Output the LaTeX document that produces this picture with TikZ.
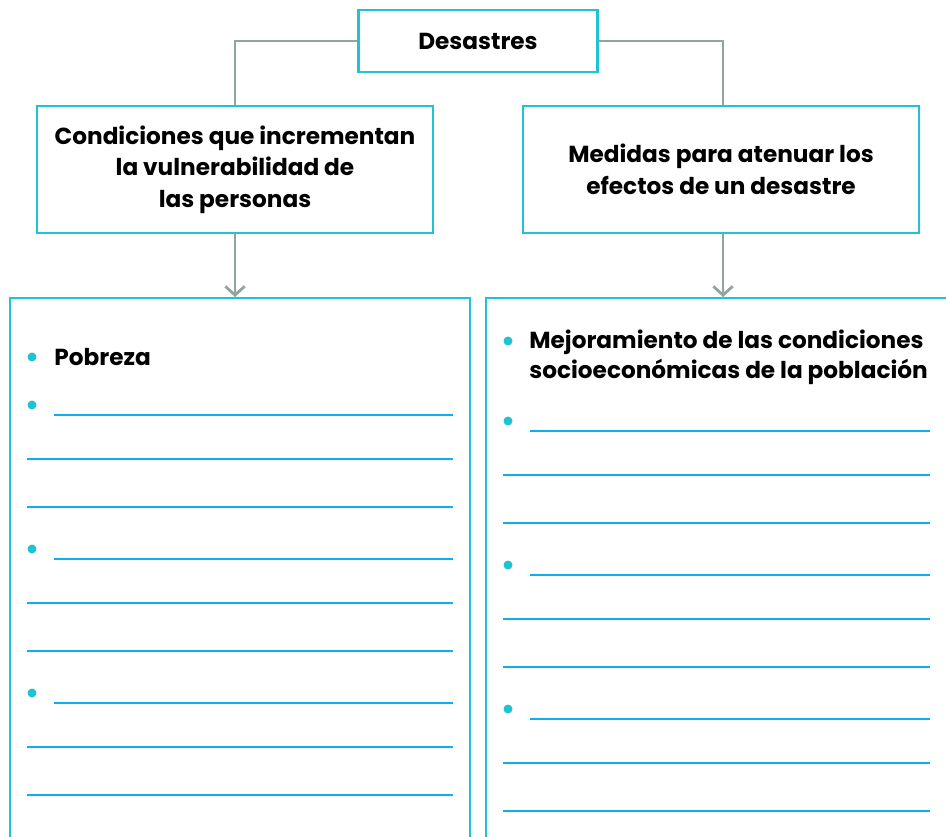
\documentclass[tikz,border=0pt]{standalone}
\usepackage{fontspec}
\setmainfont{Poppins}
\usetikzlibrary{arrows.meta}
\definecolor{boxcyan}{HTML}{1FC3D4}
\definecolor{linkgray}{HTML}{8FA59F}
\definecolor{lineblue}{HTML}{0BB0EC}
\begin{document}
\begin{tikzpicture}[x=0.02cm,y=-0.02cm,
  box/.style={draw=boxcyan,line width=1.2pt,rectangle,align=center,font=\fontsize{13.2}{18}\selectfont\bfseries},
  link/.style={draw=linkgray,line width=1.6pt},
  writeline/.style={draw=lineblue,line width=1.5pt},
  dot/.style={fill=boxcyan}]
  \useasboundingbox (0,0) rectangle (946,837);
  % title and the two question boxes
  \node[box,minimum width=4.78cm,minimum height=1.24cm] (top) at (478,41) {Desastres};
  \node[box,minimum width=7.92cm,minimum height=2.54cm] (cond) at (235,169.5)
    {Condiciones que incrementan\\la vulnerabilidad de\\las personas};
  \node[box,minimum width=7.92cm,minimum height=2.54cm] (medi) at (721,169.5)
    {Medidas para atenuar los\\efectos de un desastre};
  % answer boxes, open at the bottom
  \node[draw=boxcyan,line width=1.2pt,minimum width=9.2cm,minimum height=11.2cm,anchor=north] (condlist) at (240,297) {};
  \node[draw=boxcyan,line width=1.2pt,minimum width=9.5cm,minimum height=11.2cm,anchor=north] (medilist) at (723,297) {};
  \draw[link] (top.west) -| (cond.north);
  \draw[link] (top.east) -| (medi.north -| 723,0);
  \draw[link,-{Straight Barb[length=5pt,width=11pt]}] (cond.south) -- (cond.south |- condlist.north);
  \draw[link,-{Straight Barb[length=5pt,width=11pt]}] (medi.south -| 723,0) -- (723,297);
  % left list
  \fill[dot] (32,357) circle (4.5);
  \node[anchor=west,font=\fontsize{13.2}{17}\selectfont\bfseries,inner sep=0pt] (pobreza) at (54,357) {Pobreza};
  \foreach \y in {405,549,693} {
    \fill[dot] (32,\y) circle (4.5);
    \draw[writeline] (54,\y+10) -- (453,\y+10);
    \draw[writeline] (27,\y+54) -- (453,\y+54);
    \draw[writeline] (27,\y+102) -- (453,\y+102);
  }
  % right list
  \fill[dot] (508,341) circle (4.5);
  \node[anchor=west,align=left,font=\fontsize{13.2}{17}\selectfont\bfseries,inner sep=0pt] (mejora) at (529,357)
    {Mejoramiento de las condiciones\\socioeconómicas de la población};
  \foreach \y in {421,565,709} {
    \fill[dot] (508,\y) circle (4.5);
    \draw[writeline] (530,\y+10) -- (930,\y+10);
    \draw[writeline] (503,\y+54) -- (930,\y+54);
    \draw[writeline] (503,\y+102) -- (930,\y+102);
  }
\end{tikzpicture}
\end{document}
